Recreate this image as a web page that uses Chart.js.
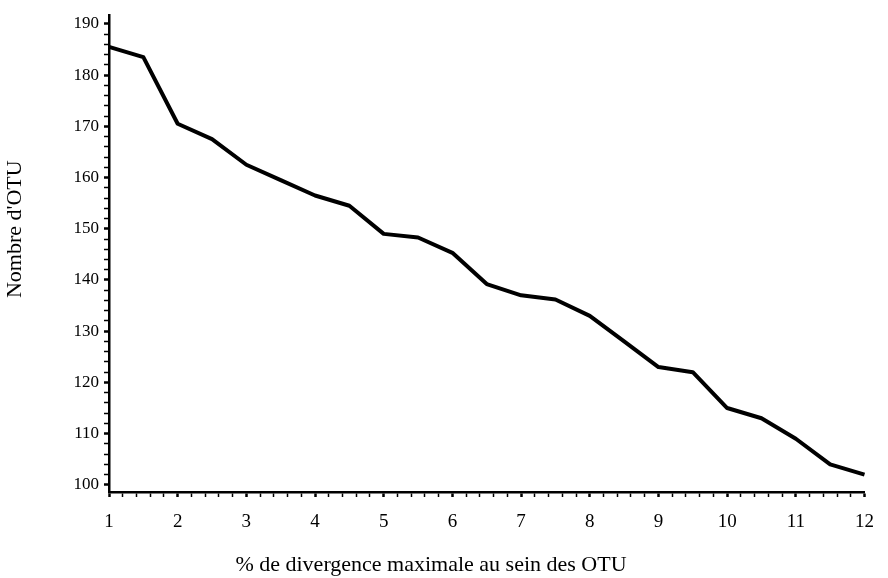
<!DOCTYPE html>
<html>
<head>
<meta charset="utf-8">
<script src="https://cdn.jsdelivr.net/npm/chart.js@4.4.1/dist/chart.umd.min.js"></script>
<style>
  html, body { margin: 0; padding: 0; background: #fff; }
  canvas { display: block; }
</style>
</head>
<body>
<canvas id="otuChart" width="888" height="578"></canvas>
<script>
// % divergence values and number of OTU
const divergence = [1, 1.5, 2, 2.5, 3, 3.5, 4, 4.5, 5, 5.5, 6, 6.5, 7, 7.5, 8, 8.5, 9, 9.5, 10, 10.5, 11, 11.5, 12];
const otuCounts = [185.5, 183.5, 170.5, 167.5, 162.5, 159.5, 156.5, 154.5, 149, 148.3, 145.3, 139.2, 137, 136.2, 133, 128, 123, 122, 115, 113, 109, 104, 102];

const xTickLabels = [1, 2, 3, 4, 5, 6, 7, 8, 9, 10, 11, 12];
const yTickLabels = [100, 110, 120, 130, 140, 150, 160, 170, 180, 190];
const xMinorStep = 0.2;
const yMinorStep = 2;

const xTitle = "% de divergence maximale au sein des OTU";
const yTitle = "Nombre d'OTU";

const serif = "'Liberation Serif', 'Times New Roman', serif";

function minorTicks(first, last, step) {
  const out = [];
  const n = Math.round((last - first) / step);
  for (let i = 0; i <= n; i++) out.push({ value: +(first + i * step).toFixed(4) });
  return out;
}

const isMajor = (v, list) => list.some(t => Math.abs(t - v) < 1e-6);

// axis titles placed like in the scanned figure
const axisTitles = {
  id: "axisTitles",
  afterDraw(chart) {
    const { ctx, chartArea } = chart;
    ctx.save();
    ctx.fillStyle = "#000";
    ctx.font = "22px " + serif;
    ctx.textAlign = "center";
    ctx.textBaseline = "middle";
    ctx.fillText(xTitle, chartArea.left + 322, chartArea.bottom + 73);
    ctx.translate(15, chartArea.top + 214);
    ctx.rotate(-Math.PI / 2);
    ctx.fillText(yTitle, 0, 0);
    ctx.restore();
  }
};

document.addEventListener("DOMContentLoaded", () => {
  const ctx = document.getElementById("otuChart").getContext("2d");

  new Chart(ctx, {
    type: "line",
    data: {
      datasets: [{
        data: divergence.map((x, i) => ({ x: x, y: otuCounts[i] })),
        borderColor: "#000",
        borderWidth: 4,
        pointRadius: 0,
        tension: 0,
        clip: false,
        borderJoinStyle: "round"
      }]
    },
    options: {
      responsive: false,
      animation: false,
      layout: { padding: { top: 7, right: 21, left: 0, bottom: 0 } },
      plugins: {
        legend: { display: false },
        tooltip: { enabled: false }
      },
      scales: {
        x: {
          type: "linear",
          min: 1,
          max: 12,
          afterBuildTicks: (scale) => { scale.ticks = minorTicks(1, 12, xMinorStep); },
          afterFit: (scale) => { scale.height = 86; },
          border: { color: "#000", width: 2.5 },
          grid: {
            drawOnChartArea: false,
            drawTicks: true,
            tickLength: 5,
            tickColor: "#000",
            tickWidth: (c) => isMajor(c.tick.value, xTickLabels) ? 2.5 : 1.5
          },
          ticks: {
            autoSkip: false,
            maxRotation: 0,
            padding: 14,
            color: "#000",
            font: { family: serif, size: 19 },
            callback: (v) => isMajor(v, xTickLabels) ? String(Math.round(v)) : ""
          }
        },
        y: {
          type: "linear",
          min: 98.6,
          max: 191.7,
          afterBuildTicks: (scale) => { scale.ticks = minorTicks(100, 190, yMinorStep); },
          afterFit: (scale) => { scale.width = 109; },
          border: { color: "#000", width: 2.5 },
          grid: {
            drawOnChartArea: false,
            drawTicks: true,
            tickLength: 5,
            tickColor: "#000",
            tickWidth: (c) => isMajor(c.tick.value, yTickLabels) ? 2.5 : 1.5
          },
          ticks: {
            autoSkip: false,
            padding: 5,
            color: "#000",
            font: { family: serif, size: 17 },
            callback: (v) => isMajor(v, yTickLabels) ? String(Math.round(v)) : ""
          }
        }
      }
    },
    plugins: [axisTitles]
  });
});
</script>
</body>
</html>
